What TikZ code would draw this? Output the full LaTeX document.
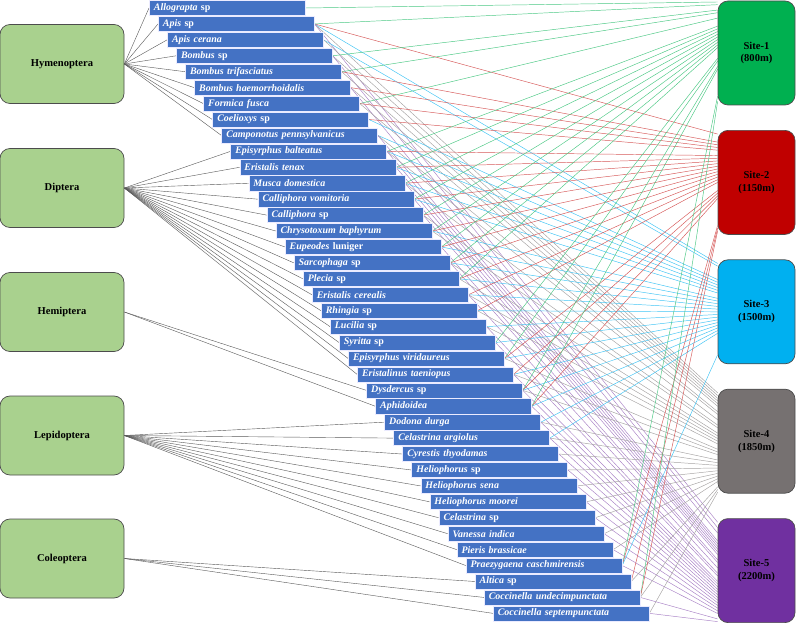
\documentclass[tikz,border=0pt]{standalone}
\usepackage{fontspec}
\setmainfont{Liberation Serif}
\usetikzlibrary{calc,backgrounds}
\definecolor{barblue}{HTML}{4472C4}
\definecolor{ordergreen}{HTML}{A9D18E}
\definecolor{siteA}{HTML}{00B050}
\definecolor{siteB}{HTML}{C00000}
\definecolor{siteC}{HTML}{00B0F0}
\definecolor{siteD}{HTML}{767171}
\definecolor{siteE}{HTML}{7030A0}
\tikzset{
  orderbox/.style={draw=black!70,line width=.6pt,fill=ordergreen,rounded corners=3mm,
    minimum width=37.2mm,minimum height=23.7mm,font=\bfseries\fontsize{9}{11}\selectfont},
  sitebox/.style={draw=black!70,line width=.6pt,rounded corners=3mm,align=center,
    minimum width=23.1mm,minimum height=31.2mm,font=\bfseries\fontsize{9}{11}\selectfont},
  spbox/.style={draw=blue!8,line width=.4pt,fill=barblue,text=white,anchor=west,align=left,
    text width=44mm,inner xsep=1.4mm,inner ysep=0pt,minimum height=4.55mm,
    font=\bfseries\fontsize{8.5}{9}\selectfont},
  orderline/.style={draw=black!65,line width=.35pt},
  link1/.style={draw=siteA!70,line width=.4pt},
  link2/.style={draw=siteB!65,line width=.4pt},
  link3/.style={draw=siteC!75,line width=.4pt},
  link4/.style={draw=siteD!65,line width=.4pt},
  link5/.style={draw=siteE!60,line width=.4pt},
}
\begin{document}
\begin{tikzpicture}[x=.3mm,y=-.3mm]
\useasboundingbox (0,0) rectangle (796,626);
% insect orders
\node[orderbox] (hym) at (62,64) {Hymenoptera};
\node[orderbox] (dip) at (62,188) {Diptera};
\node[orderbox] (hem) at (62,312) {Hemiptera};
\node[orderbox] (lep) at (62,435.5) {Lepidoptera};
\node[orderbox] (col) at (62,558.5) {Coleoptera};
% sites
\foreach \alt/\col [count=\j] in {800/siteA,1150/siteB,1500/siteC,1850/siteD,2200/siteE}
  \node[sitebox,fill=\col] (site\j) at (756.5,{53+129.4*(\j-1)}) {Site-\j\\(\alt m)};
% species
\foreach \txt [count=\i] in {
  {\textit{Allograpta} sp},{\textit{Apis} sp},{\textit{Apis cerana}},{\textit{Bombus} sp},
  {\textit{Bombus trifasciatus}},{\textit{Bombus haemorrhoidalis}},{\textit{Formica fusca}},
  {\textit{Coelioxys} sp},{\textit{Camponotus pennsylvanicus}},{\textit{Episyrphus balteatus}},
  {\textit{Eristalis tenax}},{\textit{Musca domestica}},{\textit{Calliphora vomitoria}},
  {\textit{Calliphora} sp},{\textit{Chrysotoxum baphyrum}},{\textit{Eupeodes} luniger},
  {\textit{Sarcophaga} sp},{\textit{Plecia} sp},{\textit{Eristalis cerealis}},
  {\textit{Rhingia} sp},{\textit{Lucilia} sp},{\textit{Syritta} sp},
  {\textit{Episyrphus viridaureus}},{\textit{Eristalinus taeniopus}},{\textit{Dysdercus} sp},
  {\textit{Aphidoidea}},{\textit{Dodona durga}},{\textit{Celastrina argiolus}},
  {\textit{Cyrestis thyodamas}},{\textit{Heliophorus} sp},{\textit{Heliophorus sena}},
  {\textit{Heliophorus moorei}},{\textit{Celastrina} sp},{\textit{Vanessa indica}},
  {\textit{Pieris brassicae}},{\textit{Praezygaena caschmirensis}},{\textit{Altica} sp},
  {\textit{Coccinella undecimpunctata}},{\textit{Coccinella septempunctata}}}
  \node[spbox] (sp\i) at ({149+9.05*(\i-1)},{8+15.93*(\i-1)}) {\txt};
\begin{scope}[on background layer]
% order -> species
\foreach \o/\a/\b in {hym/1/9,dip/10/24,hem/25/26,lep/27/36,col/37/39}
  \foreach \i in {\a,...,\b}
    \draw[orderline] (\o.east) -- (sp\i.west);
% species -> sites
\foreach \i/\sites in {1/{1},2/{1,2,3,4,5},3/{3,4},4/{1,4,5},5/{1,2,4},6/{2,4,5},7/{1,2,4},
  8/{2,3},9/{3,4,5},10/{1,2,3,4,5},11/{1,2,3,5},12/{1,2,3,4,5},13/{1,2,3,5},14/{1,2,4,5},
  15/{1,2,3,4},16/{1,2,3,5},17/{1,2,3,4,5},18/{1,2,3,4},19/{2,3,4,5},20/{2,3,4},
  21/{3,4,5},22/{1,3,5},23/{1,2,3,4},24/{2,3,4,5},25/{1,2,3,4,5},26/{1,2,3,5},
  27/{3,4,5},28/{3,4,5},29/{4,5},30/{4,5},31/{4,5},32/{4,5},33/{4,5},34/{4,5},35/{4,5},
  36/{1,2,3,5},37/{2,4},38/{1,2,4,5},39/{4,5}}
  \foreach \j in \sites
    \draw[link\j] (sp\i.east) -- ($(site\j.north west)!{(\i-.5)/39}!(site\j.south west)$);
\end{scope}
\end{tikzpicture}
\end{document}
